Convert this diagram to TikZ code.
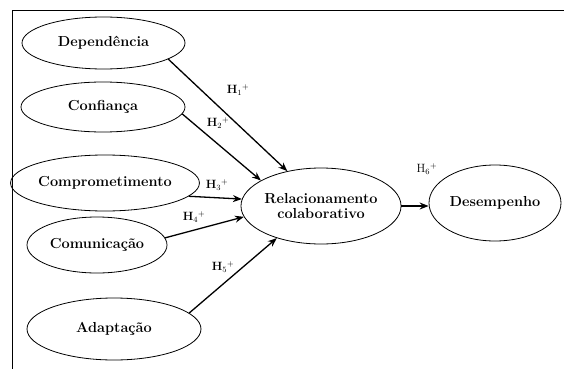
\documentclass[tikz,border=0pt]{standalone}
\usetikzlibrary{shapes.geometric,arrows.meta}
\begin{document}
\begin{tikzpicture}[x=1pt,y=-1pt,
  var/.style={draw=black,line width=0.8pt,ellipse,inner sep=0pt,font=\bfseries\fontsize{14.5}{17}\selectfont,align=center},
  conn/.style={line width=1.3pt,-{Stealth[length=9pt,width=7pt,inset=3pt]}},
  hyp/.style={font=\bfseries\fontsize{12}{14}\selectfont,inner sep=0pt},
  hypr/.style={font=\fontsize{12}{14}\selectfont,inner sep=0pt}]
\useasboundingbox (0,0) rectangle (564,369);
\draw[line width=0.9pt] (564,10.5) -- (12.5,10.5) -- (12.5,369);

\node[var,minimum width=163pt,minimum height=52pt] (dep) at (103.5,43) {\raisebox{4pt}{Dependência}};
\node[var,minimum width=164pt,minimum height=50pt] (conf) at (103,107) {\raisebox{2pt}{Confiança}};
\node[var,minimum width=186pt,minimum height=56pt] (comp) at (105,183) {Comprometimento};
\node[var,minimum width=140pt,minimum height=56pt] (comu) at (97,245) {\raisebox{3pt}{Comunicação}};
\node[var,minimum width=174pt,minimum height=62pt] (adap) at (114,329) {\raisebox{2pt}{Adaptação}};
\node[var,minimum width=160pt,minimum height=76pt] (rel) at (321,206) {\raisebox{-3pt}{\shortstack{Relacionamento\\[2pt]colaborativo}}};
\node[var,minimum width=132pt,minimum height=76pt] (des) at (495,203) {Desempenho};

\draw[conn] (dep.-14) -- (rel.134);
\draw[conn] (conf.-5) -- (rel.157);
\draw[conn] (comp.-9) -- (rel.175);
\draw[conn] (comu.6) -- (rel.-172);
\draw[conn] (adap.12) -- (rel.-144);
\draw[conn] (rel.east) -- (rel.east -| des.west);

\node[hyp] (h1) at (238,90) {H$_{1}{}^{+}$};
\node[hyp] (h2) at (218,123) {H$_{2}{}^{+}$};
\node[hyp] (h3) at (217,185) {H$_{3}{}^{+}$};
\node[hyp] (h4) at (194,217) {H$_{4}{}^{+}$};
\node[hyp] (h5) at (223,267) {H$_{5}{}^{+}$};
\node[hypr] (h6) at (427,169) {H$_{6}{}^{+}$};
\end{tikzpicture}
\end{document}
